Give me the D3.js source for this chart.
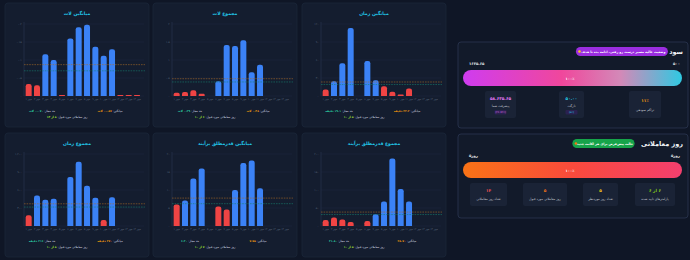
<!DOCTYPE html>
<html><head><meta charset="utf-8">
<script src="https://cdn.jsdelivr.net/npm/d3@7"></script>
<style>
html,body{margin:0;padding:0;background:#0f1626;}
svg{display:block;font-family:"DejaVu Sans",sans-serif;}
</style></head><body>
<svg id="c" width="690" height="260"></svg>
<script>
// chart data (14 trading days)
const days = ["۱ مهر","۲ مهر","۳ مهر","۴ مهر","۵ مهر","۶ مهر","۷ مهر","۸ مهر","۹ مهر","۱۰ مهر","۱۱ مهر","۱۲ مهر","۱۳ مهر","۱۴ مهر"];
const titles = ["میانگین لات","مجموع لات","میانگین زمان","مجموع زمان","میانگین قدرمطلق برآیند","مجموع قدرمطلق برآیند"];
const avgLot  = [0.033,0.030,0.116,0.100,0.003,0.160,0.191,0.198,0.137,0.112,0.130,0.003,0.003,0.003];
const sumLot  = [0.09,0.11,0.16,0.06,0,0.41,1.42,1.39,1.55,0.66,0.87,0,0,0];
const avgTime = [10.9,24.5,54.5,113.5,0,58.4,26.2,16.4,7.1,2.7,12.5,0,0,0];
const sumTime = [180,507,436,453,0,818,1069,671,469,98,480,0,0,0];
const avgAbs  = [6.0,7.1,13.2,16.0,0,5.4,4.6,10.0,17.5,18.2,10.5,0,0,0];
const sumAbs  = [16.4,23.6,18.2,10.9,0,13.6,32.7,68.2,187.3,102.7,68.2,0,0,0];
const thresholds = [0.07,0.39,19.1,316,6.2,31.8];
const yTicks = [[0,0.05,0.1,0.15,0.2],[0,0.5,1,1.5,2],[0,30,60,90,120],[0,300,600,900,1200],[0,5,10,15,20],[0,50,100,150,200]];
const units = ["لات","لات","دقیقه","دقیقه","",""];
const decimals = [3,2,1,0,2,2];

// side panels
const profitStats = [
  {val:"۵۸.۶۳۵.۶۵", label:"پیشرفت شما", sub:"(۲۶.۷۲٪)", color:"#e879f9"},
  {val:"۵۰.۰۰", label:"تارگت", sub:"(۵٪)", color:"#22d3ee"},
  {val:"۱۱٪", label:"تراکم سودهی", sub:null, color:"#f59e0b"}
];
const dayStats = [
  {val:"۱۴", label:"تعداد روز معاملاتی", color:"#f05252"},
  {val:"۵", label:"روز معاملاتی مورد قبول", color:"#f97316"},
  {val:"۵", label:"تعداد روز موردنظر", color:"#facc15"},
  {val:"۶ از ۶", label:"پارامترهای تایید شده", color:"#84cc16"}
];

const fa = s => String(s).replace(/[0-9]/g, d => "۰۱۲۳۴۵۶۷۸۹"[d]);
const svg = d3.select('#c');
const defs = svg.append('defs');

function grad(id, stops){
  const g = defs.append('linearGradient').attr('id',id);
  stops.forEach(([o,c])=> g.append('stop').attr('offset',o).attr('stop-color',c));
}
grad('gProfit', [['0%','#cf3cf0'],['45%','#f0479c'],['72%','#d389b8'],['100%','#2fc9e2']]);
grad('gDays', [['0%','#f97316'],['50%','#fa4a3c'],['100%','#f43f6e']]);

const series = [avgLot,sumLot,avgTime,sumTime,avgAbs,sumAbs];
const cardX = [5,153,302], cardY = [3,133], cardW = 144, cardH = 124;
const base = 93, plotTop = 21;

series.forEach((vals, i) => {
  const g = svg.append('g').attr('transform', `translate(${cardX[i%3]},${cardY[Math.floor(i/3)]})`);
  g.append('rect').attr('width',cardW).attr('height',cardH).attr('rx',3)
    .attr('fill','#141d2f').attr('stroke','#1b2639').attr('stroke-width',0.8);

  g.append('text').attr('x',72).attr('y',12).attr('text-anchor','middle')
    .attr('font-size',4.6).attr('font-weight','bold').attr('fill','#22c6e8').text(titles[i]);

  const ticks = yTicks[i];
  const y = d3.scaleLinear().domain([0, ticks[ticks.length-1]]).range([base, plotTop]);
  const x = d3.scaleBand().domain(days).range([19.5, 136.2]).paddingInner(0.28).paddingOuter(0.14);

  // grid
  g.selectAll('line.grid').data(ticks).join('line')
    .attr('x1',19).attr('x2',139).attr('y1',d=>y(d)).attr('y2',d=>y(d))
    .attr('stroke','#1f2b40').attr('stroke-width',0.5);
  g.append('line').attr('x1',19).attr('x2',19).attr('y1',plotTop-2).attr('y2',base)
    .attr('stroke','#2a3850').attr('stroke-width',0.6);

  const yAxis = g.append('g').attr('transform','translate(18,0)')
    .call(d3.axisLeft(y).tickValues(ticks).tickSize(0).tickPadding(1.2)
      .tickFormat(d => fa(d3.format(',')(d))));
  yAxis.select('.domain').remove();
  yAxis.selectAll('text').attr('font-size',2.8).attr('fill','#5d6b80').attr('font-family','DejaVu Sans');

  const xAxis = g.append('g').attr('transform',`translate(0,${base})`)
    .call(d3.axisBottom(x).tickSize(0).tickPadding(2));
  xAxis.select('.domain').remove();
  xAxis.selectAll('text').attr('font-size',2.6).attr('fill','#5d6b80').attr('font-family','DejaVu Sans');

  const th = thresholds[i];
  g.selectAll('path.bar').data(vals.map((v,k)=>({v,k})).filter(d=>d.v>0)).join('path')
    .attr('d', d => {
      const bx = x(days[d.k]), bw = x.bandwidth(), by = y(d.v), bh = base - by;
      const r = Math.min(2.2, bh/2, bw/2);
      return `M${bx},${base}V${by+r}Q${bx},${by} ${bx+r},${by}H${bx+bw-r}Q${bx+bw},${by} ${bx+bw},${by+r}V${base}Z`;
    })
    .attr('fill', d => d.v >= th ? '#3b82f6' : '#ef4444');

  const mean = d3.mean(vals);
  g.append('line').attr('x1',19).attr('x2',140).attr('y1',y(mean)).attr('y2',y(mean))
    .attr('stroke','#a86a26').attr('stroke-width',0.6).attr('stroke-dasharray','1.6,1');
  g.append('line').attr('x1',19).attr('x2',140).attr('y1',y(th)).attr('y2',y(th))
    .attr('stroke','#17806f').attr('stroke-width',0.6).attr('stroke-dasharray','1.6,1');

  const u = units[i] ? ' ' + units[i] : '';
  function legend(cx, cy, label, value, color){
    const t = g.append('text').attr('x',cx).attr('y',cy).attr('text-anchor','middle')
      .attr('direction','rtl').attr('font-size',2.9).attr('fill','#d6dbe3');
    t.append('tspan').text(label + ' ');
    t.append('tspan').attr('fill',color).attr('font-weight','bold').text(value);
  }
  legend(105, base+16, 'میانگین:', fa(mean.toFixed(decimals[i])) + u, '#f59e0b');
  legend(37, base+16, 'حد مجاز:', fa(th.toFixed(decimals[i])) + u, '#2dd4a8');
  const ok = vals.filter(v=>v>=th).length, tot = vals.filter(v=>v>0).length;
  legend(62, base+22, 'روز معاملاتی مورد قبول:', fa(ok) + ' از ' + fa(tot), '#a3e635');
});

// right panels
function panel(py, ph, title, pillText, pillColor, dotColor, leftLbl, rightLbl, gradId){
  const g = svg.append('g');
  g.append('rect').attr('x',458).attr('y',py).attr('width',230).attr('height',ph).attr('rx',3)
    .attr('fill','#121a2a').attr('stroke','#2b3650').attr('stroke-width',0.8);
  g.append('text').attr('x',683).attr('y',py+12).attr('text-anchor','end')
    .attr('font-size',6.5).attr('font-weight','bold').attr('fill','#f1f5f9').text(title);
  const pw = pillText.length * 1.75 + 8;
  const tw = title.length * 3.7;
  const px = 683 - tw - 4 - pw;
  g.append('rect').attr('x',px).attr('y',py+5).attr('width',pw).attr('height',9).attr('rx',4.5).attr('fill',pillColor);
  g.append('text').attr('x',px+pw/2+1.5).attr('y',py+10.8).attr('text-anchor','middle').attr('direction','rtl')
    .attr('font-size',3.2).attr('font-weight','bold').attr('fill','#fff').text(pillText);
  g.append('circle').attr('cx',px+3.6).attr('cy',py+9.5).attr('r',1.3).attr('fill',dotColor);
  g.append('text').attr('x',469).attr('y',py+23).attr('font-size',3.8).attr('font-weight','bold').attr('fill','#e5e7eb').text(leftLbl);
  g.append('text').attr('x',680).attr('y',py+23).attr('text-anchor','end').attr('font-size',3.8).attr('font-weight','bold').attr('fill','#e5e7eb').text(rightLbl);
  g.append('rect').attr('x',463).attr('y',py+28).attr('width',219).attr('height',16).attr('rx',8).attr('fill',`url(#${gradId})`);
  g.append('text').attr('x',570).attr('y',py+37.5).attr('text-anchor','middle').attr('font-size',3.6).attr('font-weight','bold').attr('fill','#fff').text('۱۰۰٪');
  return g;
}

const p1 = panel(42, 86, 'سود', 'وضعیت عالیه  مسیر درست رو رفتی، ادامه بده تا هدف', '#9b2ee0', '#facc15', '۱۶۳۵.۶۵', '۵۰۰', 'gProfit');
const pBox = [[485,31],[559,25],[629,32]];
profitStats.forEach((s, k) => {
  const [bx, bw] = pBox[k];
  p1.append('rect').attr('x',bx).attr('y',91).attr('width',bw).attr('height',27).attr('rx',2).attr('fill','#1a2336');
  const cx = bx + bw/2;
  p1.append('text').attr('x',cx).attr('y',s.sub ? 99.5 : 102).attr('text-anchor','middle')
    .attr('font-size',4.2).attr('font-weight','bold').attr('fill',s.color).text(s.val);
  p1.append('text').attr('x',cx).attr('y',s.sub ? 106.5 : 111).attr('text-anchor','middle').attr('direction','rtl')
    .attr('font-size',3.2).attr('fill','#c2c8d2').text(s.label);
  if (s.sub){
    p1.append('rect').attr('x',cx-6).attr('y',110).attr('width',12).attr('height',4.5).attr('rx',1).attr('fill','#2a2150');
    p1.append('text').attr('x',cx).attr('y',113.4).attr('text-anchor','middle').attr('font-size',2.8)
      .attr('fill',s.color).text(s.sub);
  }
});

const p2 = panel(134, 84, 'روز معاملاتی', 'حالت پیش‌فرض برای هر اکانت جدید', '#16a34a', '#f97316', '۵روز', '۵روز', 'gDays');
const dBox = [[470,37],[523,44],[583,35],[635,40]];
dayStats.forEach((s, k) => {
  const [bx, bw] = dBox[k];
  p2.append('rect').attr('x',bx).attr('y',183).attr('width',bw).attr('height',23).attr('rx',2).attr('fill','#1a2336');
  const cx = bx + bw/2;
  p2.append('text').attr('x',cx).attr('y',192).attr('text-anchor','middle').attr('direction','rtl')
    .attr('font-size',4.2).attr('font-weight','bold').attr('fill',s.color).text(s.val);
  p2.append('text').attr('x',cx).attr('y',200).attr('text-anchor','middle').attr('direction','rtl')
    .attr('font-size',3.2).attr('fill','#c2c8d2').text(s.label);
});
</script>
</body></html>
